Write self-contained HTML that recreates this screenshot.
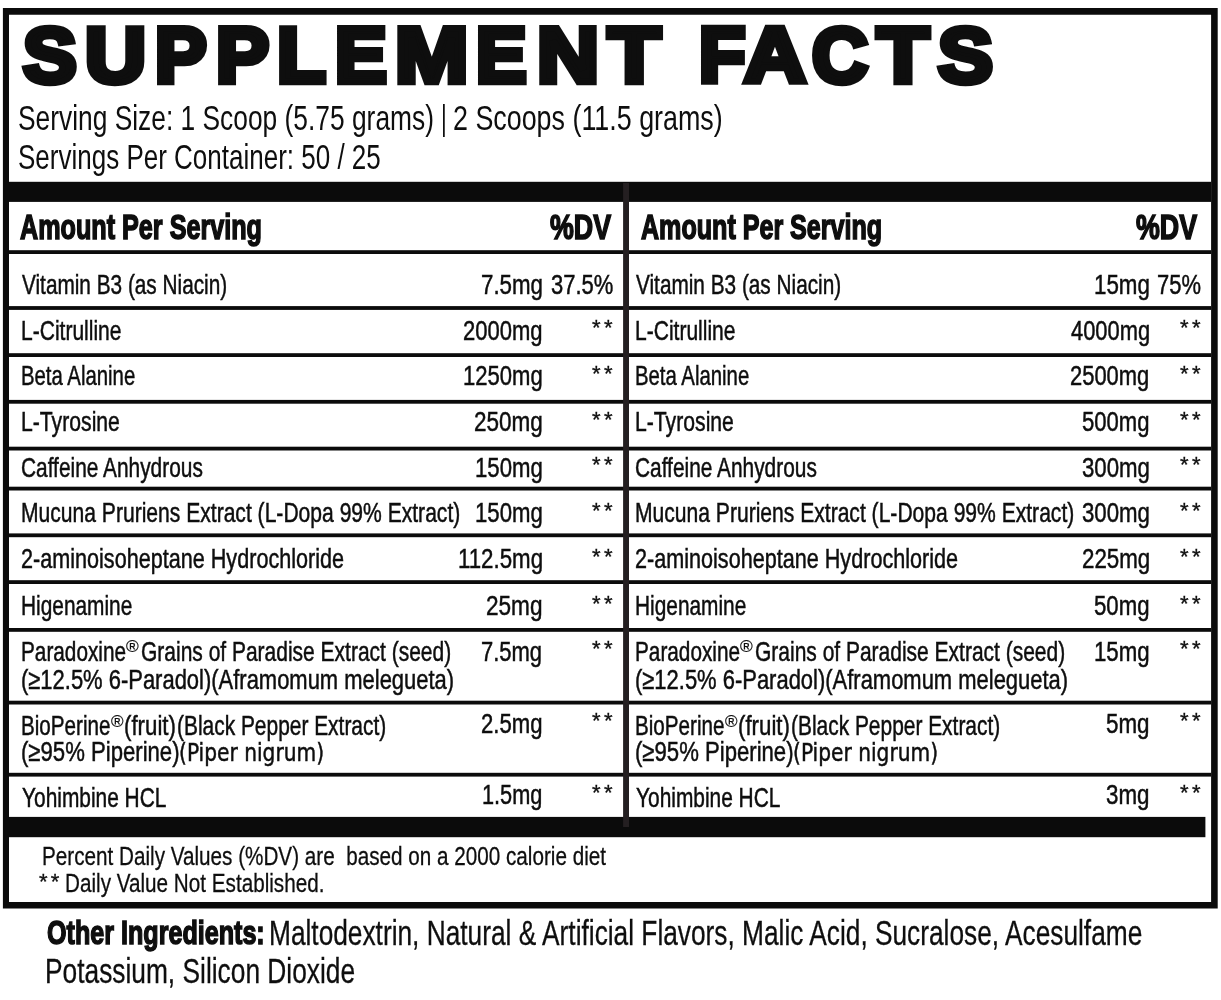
<!DOCTYPE html>
<html lang="en">
<head>
<meta charset="utf-8">
<title>Supplement Facts</title>
<style>
html,body{margin:0;padding:0;background:#fff}
body{width:1221px;height:1000px;position:relative;overflow:hidden;
  font-family:"Liberation Sans", sans-serif;color:#0e0e0e}
.label{position:absolute;left:0;top:0;width:1221px;height:1000px}
.rules{position:absolute;left:0;top:0;width:1221px;height:1000px;display:block}
h1,section,header,footer,p{margin:0;padding:0;font:inherit}
.t{position:absolute;white-space:pre;font-variant-ligatures:none;transform-origin:0 0;
  display:block;font-weight:400;color:#0e0e0e;-webkit-text-stroke:0 #0e0e0e}
.title,.colhead,.b{font-weight:700}
.alt{font-family:"DejaVu Sans", sans-serif}
</style>
</head>
<body>
<div class="label">
<svg class="rules" width="1221" height="1000" viewBox="0 0 1221 1000" aria-hidden="true">
<path class="frame" fill="#0b0b0b" fill-rule="evenodd" d="M2.9 7.9H1217.7V908.6H2.9Z M9 14.7H1211.1V902H9Z"/>
<rect class="bar" fill="#0b0b0b" x="9" y="181.8" width="1202.1" height="20.1"/>
<rect class="bar" fill="#0b0b0b" x="9" y="816.9" width="1196.4" height="20.3"/>
<rect class="rule" fill="#0b0b0b" x="9" y="250.2" width="1202.1" height="3.8"/>
<rect class="rule" fill="#0b0b0b" x="9" y="306.1" width="1202.1" height="3.8"/>
<rect class="rule" fill="#0b0b0b" x="9" y="353.2" width="1202.1" height="3.8"/>
<rect class="rule" fill="#0b0b0b" x="9" y="399.9" width="1202.1" height="3.8"/>
<rect class="rule" fill="#0b0b0b" x="9" y="446.7" width="1202.1" height="3.8"/>
<rect class="rule" fill="#0b0b0b" x="9" y="486.7" width="1202.1" height="3.8"/>
<rect class="rule" fill="#0b0b0b" x="9" y="533.4" width="1202.1" height="3.8"/>
<rect class="rule" fill="#0b0b0b" x="9" y="580.2" width="1202.1" height="3.8"/>
<rect class="rule" fill="#0b0b0b" x="9" y="628.0" width="1202.1" height="3.8"/>
<rect class="rule" fill="#0b0b0b" x="9" y="700.7" width="1202.1" height="3.8"/>
<rect class="rule" fill="#0b0b0b" x="9" y="772.8" width="1202.1" height="3.8"/>
<rect class="divider" fill="#241f21" x="623.1" y="183" width="5.9" height="644"/>
</svg>
<header class="head">
<h1><span class="word"><span class="t title" style="left:22.96px;top:10.90px;font-size:78.49px;line-height:88px;transform:scaleX(1.0256);-webkit-text-stroke-width:6.4px">S</span><span class="t title" style="left:85.17px;top:10.90px;font-size:78.49px;line-height:88px;transform:scaleX(1.0768);-webkit-text-stroke-width:6.4px">U</span><span class="t title" style="left:154.98px;top:10.90px;font-size:78.49px;line-height:88px;transform:scaleX(0.9857);-webkit-text-stroke-width:6.4px">P</span><span class="t title" style="left:216.22px;top:10.90px;font-size:78.49px;line-height:88px;transform:scaleX(1.0133);-webkit-text-stroke-width:6.4px">P</span><span class="t title" style="left:277.41px;top:10.90px;font-size:78.49px;line-height:88px;transform:scaleX(1.0174);-webkit-text-stroke-width:6.4px">L</span><span class="t title" style="left:335.27px;top:10.90px;font-size:78.49px;line-height:88px;transform:scaleX(0.9892);-webkit-text-stroke-width:6.4px">E</span><span class="t title" style="left:394.90px;top:10.90px;font-size:78.49px;line-height:88px;transform:scaleX(1.1209);-webkit-text-stroke-width:6.4px">M</span><span class="t title" style="left:475.72px;top:10.90px;font-size:78.49px;line-height:88px;transform:scaleX(0.9654);-webkit-text-stroke-width:6.4px">E</span><span class="t title" style="left:537.36px;top:10.90px;font-size:78.49px;line-height:88px;transform:scaleX(1.0942);-webkit-text-stroke-width:6.4px">N</span><span class="t title" style="left:607.94px;top:10.90px;font-size:78.49px;line-height:88px;transform:scaleX(1.0945);-webkit-text-stroke-width:6.4px">T</span></span> <span class="word"><span class="t title" style="left:699.21px;top:10.90px;font-size:78.49px;line-height:88px;transform:scaleX(0.9691);-webkit-text-stroke-width:6.4px">F</span><span class="t title" style="left:743.86px;top:10.90px;font-size:78.49px;line-height:88px;transform:scaleX(1.0920);-webkit-text-stroke-width:6.4px">A</span><span class="t title" style="left:811.98px;top:10.90px;font-size:78.49px;line-height:88px;transform:scaleX(0.9875);-webkit-text-stroke-width:6.4px">C</span><span class="t title" style="left:876.51px;top:10.90px;font-size:78.49px;line-height:88px;transform:scaleX(1.0831);-webkit-text-stroke-width:6.4px">T</span><span class="t title" style="left:937.98px;top:10.90px;font-size:78.49px;line-height:88px;transform:scaleX(1.0481);-webkit-text-stroke-width:6.4px">S</span></span></h1>
<span class="t serv" style="left:18.30px;top:98.00px;font-size:35.32px;line-height:39px;transform:scaleX(0.7462)">Serving Size: 1 Scoop (5.75 grams)</span>
<span class="t serv" style="left:440.72px;top:98.00px;font-size:35.32px;line-height:39px;transform:scaleX(0.6260)">|</span>
<span class="t serv" style="left:452.85px;top:98.00px;font-size:35.32px;line-height:39px;transform:scaleX(0.7606)">2 Scoops (11.5 grams)</span>
<span class="t serv" style="left:18.32px;top:136.80px;font-size:35.32px;line-height:39px;transform:scaleX(0.7363)">Servings Per Container: 50 / 25</span>
</header>
<section class="panel left">
<div class="row head-row">
<span class="t colhead" style="left:19.76px;top:208.40px;font-size:34.59px;line-height:38px;transform:scaleX(0.7279);-webkit-text-stroke-width:1.6px">Amount Per Serving</span>
<span class="t colhead" style="left:549.75px;top:208.40px;font-size:34.59px;line-height:38px;transform:scaleX(0.7757);-webkit-text-stroke-width:1.6px">%DV</span>
</div>
<div class="row">
<span class="t name" style="left:21.89px;top:269.30px;font-size:28.05px;line-height:31px;transform:scaleX(0.7410);-webkit-text-stroke-width:0.5px">Vitamin B3 (as Niacin)</span>
<span class="t amt" style="left:480.56px;top:269.30px;font-size:28.05px;line-height:31px;transform:scaleX(0.7951);-webkit-text-stroke-width:0.5px">7.5mg</span>
<span class="t dv" style="left:551.06px;top:269.30px;font-size:28.05px;line-height:31px;transform:scaleX(0.7837);-webkit-text-stroke-width:0.5px">37.5%</span>
</div>
<div class="row">
<span class="t name" style="left:20.86px;top:314.90px;font-size:28.05px;line-height:31px;transform:scaleX(0.7496);-webkit-text-stroke-width:0.5px">L-Citrulline</span>
<span class="t amt" style="left:462.99px;top:314.90px;font-size:28.05px;line-height:31px;transform:scaleX(0.7847);-webkit-text-stroke-width:0.5px">2000mg</span>
<span class="t dv star" style="left:591.70px;top:315.24px;font-size:21.65px;line-height:25px;transform:scaleX(1.0201);letter-spacing:3.34px;-webkit-text-stroke-width:0.3px">**</span>
</div>
<div class="row">
<span class="t name" style="left:20.91px;top:360.40px;font-size:28.05px;line-height:31px;transform:scaleX(0.7251);-webkit-text-stroke-width:0.5px">Beta Alanine</span>
<span class="t amt" style="left:462.82px;top:360.40px;font-size:28.05px;line-height:31px;transform:scaleX(0.7864);-webkit-text-stroke-width:0.5px">1250mg</span>
<span class="t dv star" style="left:591.70px;top:360.74px;font-size:21.65px;line-height:25px;transform:scaleX(1.0201);letter-spacing:3.34px;-webkit-text-stroke-width:0.3px">**</span>
</div>
<div class="row">
<span class="t name" style="left:20.85px;top:406.30px;font-size:28.05px;line-height:31px;transform:scaleX(0.7553);-webkit-text-stroke-width:0.5px">L-Tyrosine</span>
<span class="t amt" style="left:473.77px;top:406.30px;font-size:28.05px;line-height:31px;transform:scaleX(0.8020);-webkit-text-stroke-width:0.5px">250mg</span>
<span class="t dv star" style="left:591.70px;top:406.64px;font-size:21.65px;line-height:25px;transform:scaleX(1.0201);letter-spacing:3.34px;-webkit-text-stroke-width:0.3px">**</span>
</div>
<div class="row">
<span class="t name" style="left:20.73px;top:452.00px;font-size:28.05px;line-height:31px;transform:scaleX(0.7444);-webkit-text-stroke-width:0.5px">Caffeine Anhydrous</span>
<span class="t amt" style="left:474.81px;top:452.00px;font-size:28.05px;line-height:31px;transform:scaleX(0.7896);-webkit-text-stroke-width:0.5px">150mg</span>
<span class="t dv star" style="left:591.70px;top:452.34px;font-size:21.65px;line-height:25px;transform:scaleX(1.0201);letter-spacing:3.34px;-webkit-text-stroke-width:0.3px">**</span>
</div>
<div class="row">
<span class="t name" style="left:20.86px;top:497.30px;font-size:28.05px;line-height:31px;transform:scaleX(0.7515);-webkit-text-stroke-width:0.5px">Mucuna Pruriens Extract (L-Dopa 99% Extract)</span>
<span class="t amt" style="left:474.81px;top:497.30px;font-size:28.05px;line-height:31px;transform:scaleX(0.7896);-webkit-text-stroke-width:0.5px">150mg</span>
<span class="t dv star" style="left:591.70px;top:497.64px;font-size:21.65px;line-height:25px;transform:scaleX(1.0201);letter-spacing:3.34px;-webkit-text-stroke-width:0.3px">**</span>
</div>
<div class="row">
<span class="t name" style="left:20.71px;top:543.30px;font-size:28.05px;line-height:31px;transform:scaleX(0.7703);-webkit-text-stroke-width:0.5px">2-aminoisoheptane Hydrochloride</span>
<span class="t amt" style="left:457.50px;top:543.30px;font-size:28.05px;line-height:31px;transform:scaleX(0.7941);-webkit-text-stroke-width:0.5px">112.5mg</span>
<span class="t dv star" style="left:591.70px;top:543.64px;font-size:21.65px;line-height:25px;transform:scaleX(1.0201);letter-spacing:3.34px;-webkit-text-stroke-width:0.3px">**</span>
</div>
<div class="row">
<span class="t name" style="left:20.88px;top:590.20px;font-size:28.05px;line-height:31px;transform:scaleX(0.7434);-webkit-text-stroke-width:0.5px">Higenamine</span>
<span class="t amt" style="left:486.07px;top:590.20px;font-size:28.05px;line-height:31px;transform:scaleX(0.8050);-webkit-text-stroke-width:0.5px">25mg</span>
<span class="t dv star" style="left:591.70px;top:590.54px;font-size:21.65px;line-height:25px;transform:scaleX(1.0201);letter-spacing:3.34px;-webkit-text-stroke-width:0.3px">**</span>
</div>
<div class="row">
<span class="t name" style="left:20.88px;top:635.80px;font-size:28.05px;line-height:31px;transform:scaleX(0.7403);-webkit-text-stroke-width:0.5px">Paradoxine</span>
<span class="t reg" style="left:126.04px;top:636.97px;font-size:16.85px;line-height:19px;transform:scaleX(1.0245);-webkit-text-stroke-width:0.2px">®</span>
<span class="t name" style="left:141.13px;top:635.80px;font-size:28.05px;line-height:31px;transform:scaleX(0.7481);-webkit-text-stroke-width:0.5px">Grains of Paradise Extract (seed)</span>
<span class="t amt" style="left:481.47px;top:636.10px;font-size:28.05px;line-height:31px;transform:scaleX(0.7832);-webkit-text-stroke-width:0.5px">7.5mg</span>
<span class="t dv star" style="left:591.70px;top:636.44px;font-size:21.65px;line-height:25px;transform:scaleX(1.0201);letter-spacing:3.34px;-webkit-text-stroke-width:0.3px">**</span>
<span class="t name" style="left:21.23px;top:664.10px;font-size:28.05px;line-height:31px;transform:scaleX(0.7830);-webkit-text-stroke-width:0.5px">(≥12.5% 6-Paradol)(Aframomum melegueta)</span>
</div>
<div class="row">
<span class="t name" style="left:20.89px;top:709.50px;font-size:28.05px;line-height:31px;transform:scaleX(0.7354);-webkit-text-stroke-width:0.5px">BioPerine</span>
<span class="t reg" style="left:111.04px;top:712.17px;font-size:16.85px;line-height:19px;transform:scaleX(1.0080);-webkit-text-stroke-width:0.2px">®</span>
<span class="t name" style="left:123.62px;top:709.50px;font-size:28.05px;line-height:31px;transform:scaleX(0.7941);-webkit-text-stroke-width:0.5px">(fruit)</span>
<span class="t name" style="left:177.49px;top:709.50px;font-size:28.05px;line-height:31px;transform:scaleX(0.7457);-webkit-text-stroke-width:0.5px">(Black Pepper Extract)</span>
<span class="t amt" style="left:481.09px;top:707.90px;font-size:28.05px;line-height:31px;transform:scaleX(0.7882);-webkit-text-stroke-width:0.5px">2.5mg</span>
<span class="t dv star" style="left:591.70px;top:708.24px;font-size:21.65px;line-height:25px;transform:scaleX(1.0201);letter-spacing:3.34px;-webkit-text-stroke-width:0.3px">**</span>
<span class="t name" style="left:21.22px;top:735.90px;font-size:28.05px;line-height:31px;transform:scaleX(0.7892);-webkit-text-stroke-width:0.5px">(≥95% Piperine)</span>
<span class="t name alt" style="left:179.47px;top:738.05px;font-size:24.28px;line-height:29px;transform:scaleX(0.8321);-webkit-text-stroke-width:0.5px">(Piper nigrum)</span>
</div>
<div class="row">
<span class="t name" style="left:21.73px;top:781.60px;font-size:28.05px;line-height:31px;transform:scaleX(0.7448);-webkit-text-stroke-width:0.5px">Yohimbine HCL</span>
<span class="t amt" style="left:482.14px;top:779.30px;font-size:28.05px;line-height:31px;transform:scaleX(0.7744);-webkit-text-stroke-width:0.5px">1.5mg</span>
<span class="t dv star" style="left:591.70px;top:779.64px;font-size:21.65px;line-height:25px;transform:scaleX(1.0201);letter-spacing:3.34px;-webkit-text-stroke-width:0.3px">**</span>
</div>
</section>
<section class="panel right">
<div class="row head-row">
<span class="t colhead" style="left:640.86px;top:208.40px;font-size:34.59px;line-height:38px;transform:scaleX(0.7254);-webkit-text-stroke-width:1.6px">Amount Per Serving</span>
<span class="t colhead" style="left:1136.45px;top:208.40px;font-size:34.59px;line-height:38px;transform:scaleX(0.7757);-webkit-text-stroke-width:1.6px">%DV</span>
</div>
<div class="row">
<span class="t name" style="left:635.89px;top:269.30px;font-size:28.05px;line-height:31px;transform:scaleX(0.7410);-webkit-text-stroke-width:0.5px">Vitamin B3 (as Niacin)</span>
<span class="t amt" style="left:1093.90px;top:269.30px;font-size:28.05px;line-height:31px;transform:scaleX(0.7973);-webkit-text-stroke-width:0.5px">15mg</span>
<span class="t dv" style="left:1157.07px;top:269.30px;font-size:28.05px;line-height:31px;transform:scaleX(0.7822);-webkit-text-stroke-width:0.5px">75%</span>
</div>
<div class="row">
<span class="t name" style="left:634.86px;top:314.90px;font-size:28.05px;line-height:31px;transform:scaleX(0.7496);-webkit-text-stroke-width:0.5px">L-Citrulline</span>
<span class="t amt" style="left:1070.69px;top:314.90px;font-size:28.05px;line-height:31px;transform:scaleX(0.7806);-webkit-text-stroke-width:0.5px">4000mg</span>
<span class="t dv star" style="left:1180.00px;top:315.24px;font-size:21.65px;line-height:25px;transform:scaleX(1.0201);letter-spacing:3.24px;-webkit-text-stroke-width:0.3px">**</span>
</div>
<div class="row">
<span class="t name" style="left:634.91px;top:360.40px;font-size:28.05px;line-height:31px;transform:scaleX(0.7251);-webkit-text-stroke-width:0.5px">Beta Alanine</span>
<span class="t amt" style="left:1070.49px;top:360.40px;font-size:28.05px;line-height:31px;transform:scaleX(0.7826);-webkit-text-stroke-width:0.5px">2500mg</span>
<span class="t dv star" style="left:1180.00px;top:360.74px;font-size:21.65px;line-height:25px;transform:scaleX(1.0201);letter-spacing:3.24px;-webkit-text-stroke-width:0.3px">**</span>
</div>
<div class="row">
<span class="t name" style="left:634.85px;top:406.30px;font-size:28.05px;line-height:31px;transform:scaleX(0.7553);-webkit-text-stroke-width:0.5px">L-Tyrosine</span>
<span class="t amt" style="left:1082.31px;top:406.30px;font-size:28.05px;line-height:31px;transform:scaleX(0.7872);-webkit-text-stroke-width:0.5px">500mg</span>
<span class="t dv star" style="left:1180.00px;top:406.64px;font-size:21.65px;line-height:25px;transform:scaleX(1.0201);letter-spacing:3.24px;-webkit-text-stroke-width:0.3px">**</span>
</div>
<div class="row">
<span class="t name" style="left:634.73px;top:452.00px;font-size:28.05px;line-height:31px;transform:scaleX(0.7444);-webkit-text-stroke-width:0.5px">Caffeine Anhydrous</span>
<span class="t amt" style="left:1081.85px;top:452.00px;font-size:28.05px;line-height:31px;transform:scaleX(0.7927);-webkit-text-stroke-width:0.5px">300mg</span>
<span class="t dv star" style="left:1180.00px;top:452.34px;font-size:21.65px;line-height:25px;transform:scaleX(1.0201);letter-spacing:3.24px;-webkit-text-stroke-width:0.3px">**</span>
</div>
<div class="row">
<span class="t name" style="left:634.86px;top:497.30px;font-size:28.05px;line-height:31px;transform:scaleX(0.7515);-webkit-text-stroke-width:0.5px">Mucuna Pruriens Extract (L-Dopa 99% Extract)</span>
<span class="t amt" style="left:1081.85px;top:497.30px;font-size:28.05px;line-height:31px;transform:scaleX(0.7927);-webkit-text-stroke-width:0.5px">300mg</span>
<span class="t dv star" style="left:1180.00px;top:497.64px;font-size:21.65px;line-height:25px;transform:scaleX(1.0201);letter-spacing:3.24px;-webkit-text-stroke-width:0.3px">**</span>
</div>
<div class="row">
<span class="t name" style="left:634.71px;top:543.30px;font-size:28.05px;line-height:31px;transform:scaleX(0.7703);-webkit-text-stroke-width:0.5px">2-aminoisoheptane Hydrochloride</span>
<span class="t amt" style="left:1081.58px;top:543.30px;font-size:28.05px;line-height:31px;transform:scaleX(0.7959);-webkit-text-stroke-width:0.5px">225mg</span>
<span class="t dv star" style="left:1180.00px;top:543.64px;font-size:21.65px;line-height:25px;transform:scaleX(1.0201);letter-spacing:3.24px;-webkit-text-stroke-width:0.3px">**</span>
</div>
<div class="row">
<span class="t name" style="left:634.88px;top:590.20px;font-size:28.05px;line-height:31px;transform:scaleX(0.7434);-webkit-text-stroke-width:0.5px">Higenamine</span>
<span class="t amt" style="left:1094.31px;top:590.20px;font-size:28.05px;line-height:31px;transform:scaleX(0.7913);-webkit-text-stroke-width:0.5px">50mg</span>
<span class="t dv star" style="left:1180.00px;top:590.54px;font-size:21.65px;line-height:25px;transform:scaleX(1.0201);letter-spacing:3.24px;-webkit-text-stroke-width:0.3px">**</span>
</div>
<div class="row">
<span class="t name" style="left:634.88px;top:635.80px;font-size:28.05px;line-height:31px;transform:scaleX(0.7403);-webkit-text-stroke-width:0.5px">Paradoxine</span>
<span class="t reg" style="left:740.04px;top:636.97px;font-size:16.85px;line-height:19px;transform:scaleX(1.0245);-webkit-text-stroke-width:0.2px">®</span>
<span class="t name" style="left:755.13px;top:635.80px;font-size:28.05px;line-height:31px;transform:scaleX(0.7481);-webkit-text-stroke-width:0.5px">Grains of Paradise Extract (seed)</span>
<span class="t amt" style="left:1094.20px;top:636.10px;font-size:28.05px;line-height:31px;transform:scaleX(0.7928);-webkit-text-stroke-width:0.5px">15mg</span>
<span class="t dv star" style="left:1180.00px;top:636.44px;font-size:21.65px;line-height:25px;transform:scaleX(1.0201);letter-spacing:3.24px;-webkit-text-stroke-width:0.3px">**</span>
<span class="t name" style="left:635.23px;top:664.10px;font-size:28.05px;line-height:31px;transform:scaleX(0.7830);-webkit-text-stroke-width:0.5px">(≥12.5% 6-Paradol)(Aframomum melegueta)</span>
</div>
<div class="row">
<span class="t name" style="left:634.89px;top:709.50px;font-size:28.05px;line-height:31px;transform:scaleX(0.7354);-webkit-text-stroke-width:0.5px">BioPerine</span>
<span class="t reg" style="left:725.04px;top:712.17px;font-size:16.85px;line-height:19px;transform:scaleX(1.0080);-webkit-text-stroke-width:0.2px">®</span>
<span class="t name" style="left:737.62px;top:709.50px;font-size:28.05px;line-height:31px;transform:scaleX(0.7941);-webkit-text-stroke-width:0.5px">(fruit)</span>
<span class="t name" style="left:791.49px;top:709.50px;font-size:28.05px;line-height:31px;transform:scaleX(0.7457);-webkit-text-stroke-width:0.5px">(Black Pepper Extract)</span>
<span class="t amt" style="left:1106.30px;top:707.90px;font-size:28.05px;line-height:31px;transform:scaleX(0.7980);-webkit-text-stroke-width:0.5px">5mg</span>
<span class="t dv star" style="left:1180.00px;top:708.24px;font-size:21.65px;line-height:25px;transform:scaleX(1.0201);letter-spacing:3.24px;-webkit-text-stroke-width:0.3px">**</span>
<span class="t name" style="left:635.22px;top:735.90px;font-size:28.05px;line-height:31px;transform:scaleX(0.7892);-webkit-text-stroke-width:0.5px">(≥95% Piperine)</span>
<span class="t name alt" style="left:793.47px;top:738.05px;font-size:24.28px;line-height:29px;transform:scaleX(0.8321);-webkit-text-stroke-width:0.5px">(Piper nigrum)</span>
</div>
<div class="row">
<span class="t name" style="left:635.73px;top:781.60px;font-size:28.05px;line-height:31px;transform:scaleX(0.7448);-webkit-text-stroke-width:0.5px">Yohimbine HCL</span>
<span class="t amt" style="left:1106.35px;top:779.30px;font-size:28.05px;line-height:31px;transform:scaleX(0.7971);-webkit-text-stroke-width:0.5px">3mg</span>
<span class="t dv star" style="left:1180.00px;top:779.64px;font-size:21.65px;line-height:25px;transform:scaleX(1.0201);letter-spacing:3.24px;-webkit-text-stroke-width:0.3px">**</span>
</div>
</section>
<footer class="foot-wrap">
<span class="t foot" style="left:41.92px;top:841.25px;font-size:26.6px;line-height:30px;transform:scaleX(0.7776);-webkit-text-stroke-width:0.3px">Percent Daily Values (%DV) are  based on a 2000 calorie diet</span>
<span class="t foot star" style="left:38.60px;top:869.04px;font-size:21.65px;line-height:25px;transform:scaleX(1.0201);letter-spacing:3.14px;-webkit-text-stroke-width:0.3px">**</span>
<span class="t foot" style="left:65.02px;top:868.15px;font-size:26.6px;line-height:30px;transform:scaleX(0.7778);-webkit-text-stroke-width:0.3px">Daily Value Not Established.</span>
<span class="t b other" style="left:46.53px;top:913.45px;font-size:33.72px;line-height:38px;transform:scaleX(0.7450);-webkit-text-stroke-width:1.5px">Other Ingredients:</span>
<span class="t other" style="left:269.36px;top:913.05px;font-size:35.47px;line-height:40px;transform:scaleX(0.7408);-webkit-text-stroke-width:0.3px">Maltodextrin, Natural &amp; Artificial Flavors, Malic Acid, Sucralose, Acesulfame</span>
<span class="t other" style="left:45.15px;top:950.65px;font-size:35.47px;line-height:40px;transform:scaleX(0.7420);-webkit-text-stroke-width:0.3px">Potassium, Silicon Dioxide</span>
</footer>
</div>
</body>
</html>
